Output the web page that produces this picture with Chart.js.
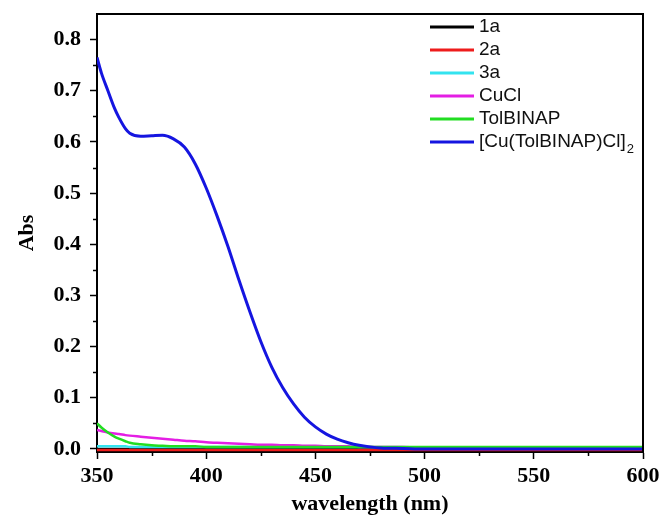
<!DOCTYPE html>
<html>
<head>
<meta charset="utf-8">
<script src="https://cdn.jsdelivr.net/npm/chart.js@4.4.0/dist/chart.umd.min.js"></script>
<style>
    html, body { margin: 0; padding: 0; background: #fff; }
    #wrap { width: 661px; height: 529px; }
</style>
</head>
<body>
<div id="wrap"><canvas id="absChart" width="661" height="529"></canvas></div>
<script>
// ===== Dados =====
const wavelengths = [350, 352, 355, 358, 360, 363, 365, 370, 375, 380, 385, 390, 395, 400, 405, 410, 415, 420, 425, 430,
                     435, 440, 445, 450, 455, 460, 465, 470, 475, 480, 490, 500, 520, 540, 560, 580, 600];

const abs1a = [0.000, 0.000, 0.000, 0.000, 0.000, 0.000, 0.000, 0.000, 0.000, 0.000, 0.000, 0.000, 0.000, 0.000, 0.000, 0.000, 0.000, 0.000, 0.000, 0.000,
               0.000, 0.000, 0.000, 0.000, 0.000, 0.000, 0.000, 0.000, 0.000, 0.000, 0.000, 0.000, 0.000, 0.000, 0.000, 0.000, 0.000];
const abs2a = [-0.002, -0.002, -0.002, -0.002, -0.002, -0.002, -0.002, -0.002, -0.002, -0.002, -0.002, -0.002, -0.002, -0.002, -0.002, -0.002, -0.002, -0.002, -0.002, -0.002,
               -0.002, -0.002, -0.002, -0.002, -0.002, -0.002, -0.002, -0.002, -0.002, -0.002, -0.002, -0.002, -0.002, -0.002, -0.002, -0.002, -0.002];
const abs3a = [0.005, 0.005, 0.005, 0.005, 0.005, 0.005, 0.004, 0.004, 0.004, 0.004, 0.004, 0.004, 0.004, 0.004, 0.004, 0.004, 0.004, 0.004, 0.004, 0.004,
               0.004, 0.004, 0.004, 0.004, 0.004, 0.004, 0.004, 0.004, 0.004, 0.003, 0.003, 0.003, 0.003, 0.003, 0.003, 0.003, 0.003];
const absCuCl = [0.037, 0.035, 0.032, 0.030, 0.029, 0.027, 0.026, 0.024, 0.022, 0.020, 0.018, 0.016, 0.015, 0.013, 0.012, 0.011, 0.010, 0.009, 0.008, 0.008,
                 0.007, 0.007, 0.006, 0.006, 0.005, 0.005, 0.005, 0.004, 0.004, 0.004, 0.004, 0.003, 0.003, 0.003, 0.003, 0.003, 0.003];
const absTolBinap = [0.050, 0.042, 0.032, 0.024, 0.020, 0.015, 0.012, 0.009, 0.007, 0.006, 0.005, 0.005, 0.005, 0.004, 0.004, 0.004, 0.004, 0.004, 0.004, 0.004,
                     0.004, 0.004, 0.004, 0.004, 0.004, 0.004, 0.004, 0.004, 0.004, 0.004, 0.004, 0.004, 0.004, 0.004, 0.004, 0.004, 0.004];
const absComplexo = [0.765, 0.735, 0.700, 0.666, 0.648, 0.626, 0.617, 0.611, 0.612, 0.613, 0.606, 0.590, 0.557, 0.510, 0.455, 0.395, 0.330, 0.268, 0.210, 0.160,
                     0.120, 0.088, 0.062, 0.043, 0.029, 0.019, 0.012, 0.007, 0.004, 0.002, 0.001, 0.000, 0.000, 0.000, 0.000, 0.000, 0.000];

const seriesLabels = ['1a', '2a', '3a', 'CuCl', 'TolBINAP', '[Cu(TolBINAP)Cl]_2'];
const seriesColors = ['#000000', '#ee1c1c', '#33e3ef', '#e41ee4', '#22dd22', '#1515e0'];
const seriesValues = [abs1a, abs2a, abs3a, absCuCl, absTolBinap, absComplexo];

const xTicks = [350, 400, 450, 500, 550, 600];
const xMinorTicks = [375, 425, 475, 525, 575];
const yTicks = [0.0, 0.1, 0.2, 0.3, 0.4, 0.5, 0.6, 0.7, 0.8];
const yMinorTicks = [0.05, 0.15, 0.25, 0.35, 0.45, 0.55, 0.65, 0.75];

// ===== Plugin: moldura, ticks menores e legenda =====
const extrasPlugin = {
    id: 'extras',
    afterDraw(chart) {
        const { ctx, chartArea: a, scales: { x, y } } = chart;
        ctx.save();

        // moldura (topo e direita)
        ctx.strokeStyle = '#000';
        ctx.lineWidth = 2;
        ctx.beginPath();
        ctx.moveTo(a.left, a.top);
        ctx.lineTo(a.right, a.top);
        ctx.lineTo(a.right, a.bottom);
        ctx.stroke();

        // ticks menores
        ctx.lineWidth = 1.5;
        ctx.beginPath();
        xMinorTicks.forEach(v => {
            const px = Math.round(x.getPixelForValue(v)) + 0.5;
            ctx.moveTo(px, a.bottom);
            ctx.lineTo(px, a.bottom + 4);
        });
        yMinorTicks.forEach(v => {
            const py = Math.round(y.getPixelForValue(v)) + 0.5;
            ctx.moveTo(a.left, py);
            ctx.lineTo(a.left - 4, py);
        });
        ctx.stroke();

        // legenda
        const lineX0 = 430, lineX1 = 474, textX = 479;
        let rowY = 27;
        ctx.textBaseline = 'middle';
        chart.data.datasets.forEach(ds => {
            ctx.strokeStyle = ds.borderColor;
            ctx.lineWidth = 3;
            ctx.beginPath();
            ctx.moveTo(lineX0, rowY);
            ctx.lineTo(lineX1, rowY);
            ctx.stroke();

            const [main, sub] = ds.label.split('_');
            ctx.fillStyle = '#111';
            ctx.font = '19px "Liberation Sans", Arial, sans-serif';
            ctx.fillText(main, textX, rowY);
            if (sub) {
                const w = ctx.measureText(main).width;
                ctx.font = '13px "Liberation Sans", Arial, sans-serif';
                ctx.fillText(sub, textX + w + 1, rowY + 7);
            }
            rowY += 23;
        });

        ctx.restore();
    }
};

// escala sem folga extra para rótulos nas pontas
function semFolga(s) {
    s.paddingLeft = 0;
    s.paddingRight = 0;
    s.paddingTop = 0;
    s.paddingBottom = 0;
}

// ===== Gráfico =====
const serifBold = { family: '"Liberation Serif", "Times New Roman", serif', weight: 'bold' };

const datasets = seriesLabels.map((label, i) => ({
    label,
    data: wavelengths.map((w, j) => ({ x: w, y: seriesValues[i][j] })),
    borderColor: seriesColors[i],
    borderWidth: i === 5 ? 3 : 2.5,
    pointRadius: 0,
    cubicInterpolationMode: 'monotone',
    order: 5 - i
}));

new Chart(document.getElementById('absChart').getContext('2d'), {
    type: 'line',
    data: { datasets },
    options: {
        responsive: false,
        animation: false,
        devicePixelRatio: 1,
        layout: { padding: { top: 14, right: 18, left: 0, bottom: 0 } },
        plugins: {
            legend: { display: false },
            tooltip: { enabled: false }
        },
        scales: {
            x: {
                type: 'linear',
                min: 350,
                max: 600,
                afterBuildTicks: s => { s.ticks = xTicks.map(v => ({ value: v })); },
                afterFit: s => { s.height = 77; semFolga(s); },
                ticks: {
                    color: '#000',
                    font: { ...serifBold, size: 22 },
                    padding: 4,
                    maxRotation: 0
                },
                grid: { drawOnChartArea: false, drawTicks: true, tickLength: 7, tickWidth: 1.5, tickColor: '#000' },
                border: { color: '#000', width: 2 },
                title: {
                    display: true,
                    text: 'wavelength (nm)',
                    color: '#000',
                    font: { ...serifBold, size: 22 },
                    padding: { top: 0, bottom: 11 }
                }
            },
            y: {
                type: 'linear',
                min: -0.006,
                max: 0.85,
                afterBuildTicks: s => { s.ticks = yTicks.map(v => ({ value: v })); },
                afterFit: s => { s.width = 97; semFolga(s); },
                ticks: {
                    color: '#000',
                    font: { ...serifBold, size: 22 },
                    padding: 9,
                    callback: v => v.toFixed(1)
                },
                grid: { drawOnChartArea: false, drawTicks: true, tickLength: 7, tickWidth: 1.5, tickColor: '#000' },
                border: { color: '#000', width: 2 },
                title: {
                    display: true,
                    text: 'Abs',
                    color: '#000',
                    font: { ...serifBold, size: 22 },
                    padding: { top: 14, bottom: 0 }
                }
            }
        }
    },
    plugins: [extrasPlugin]
});
</script>
</body>
</html>
